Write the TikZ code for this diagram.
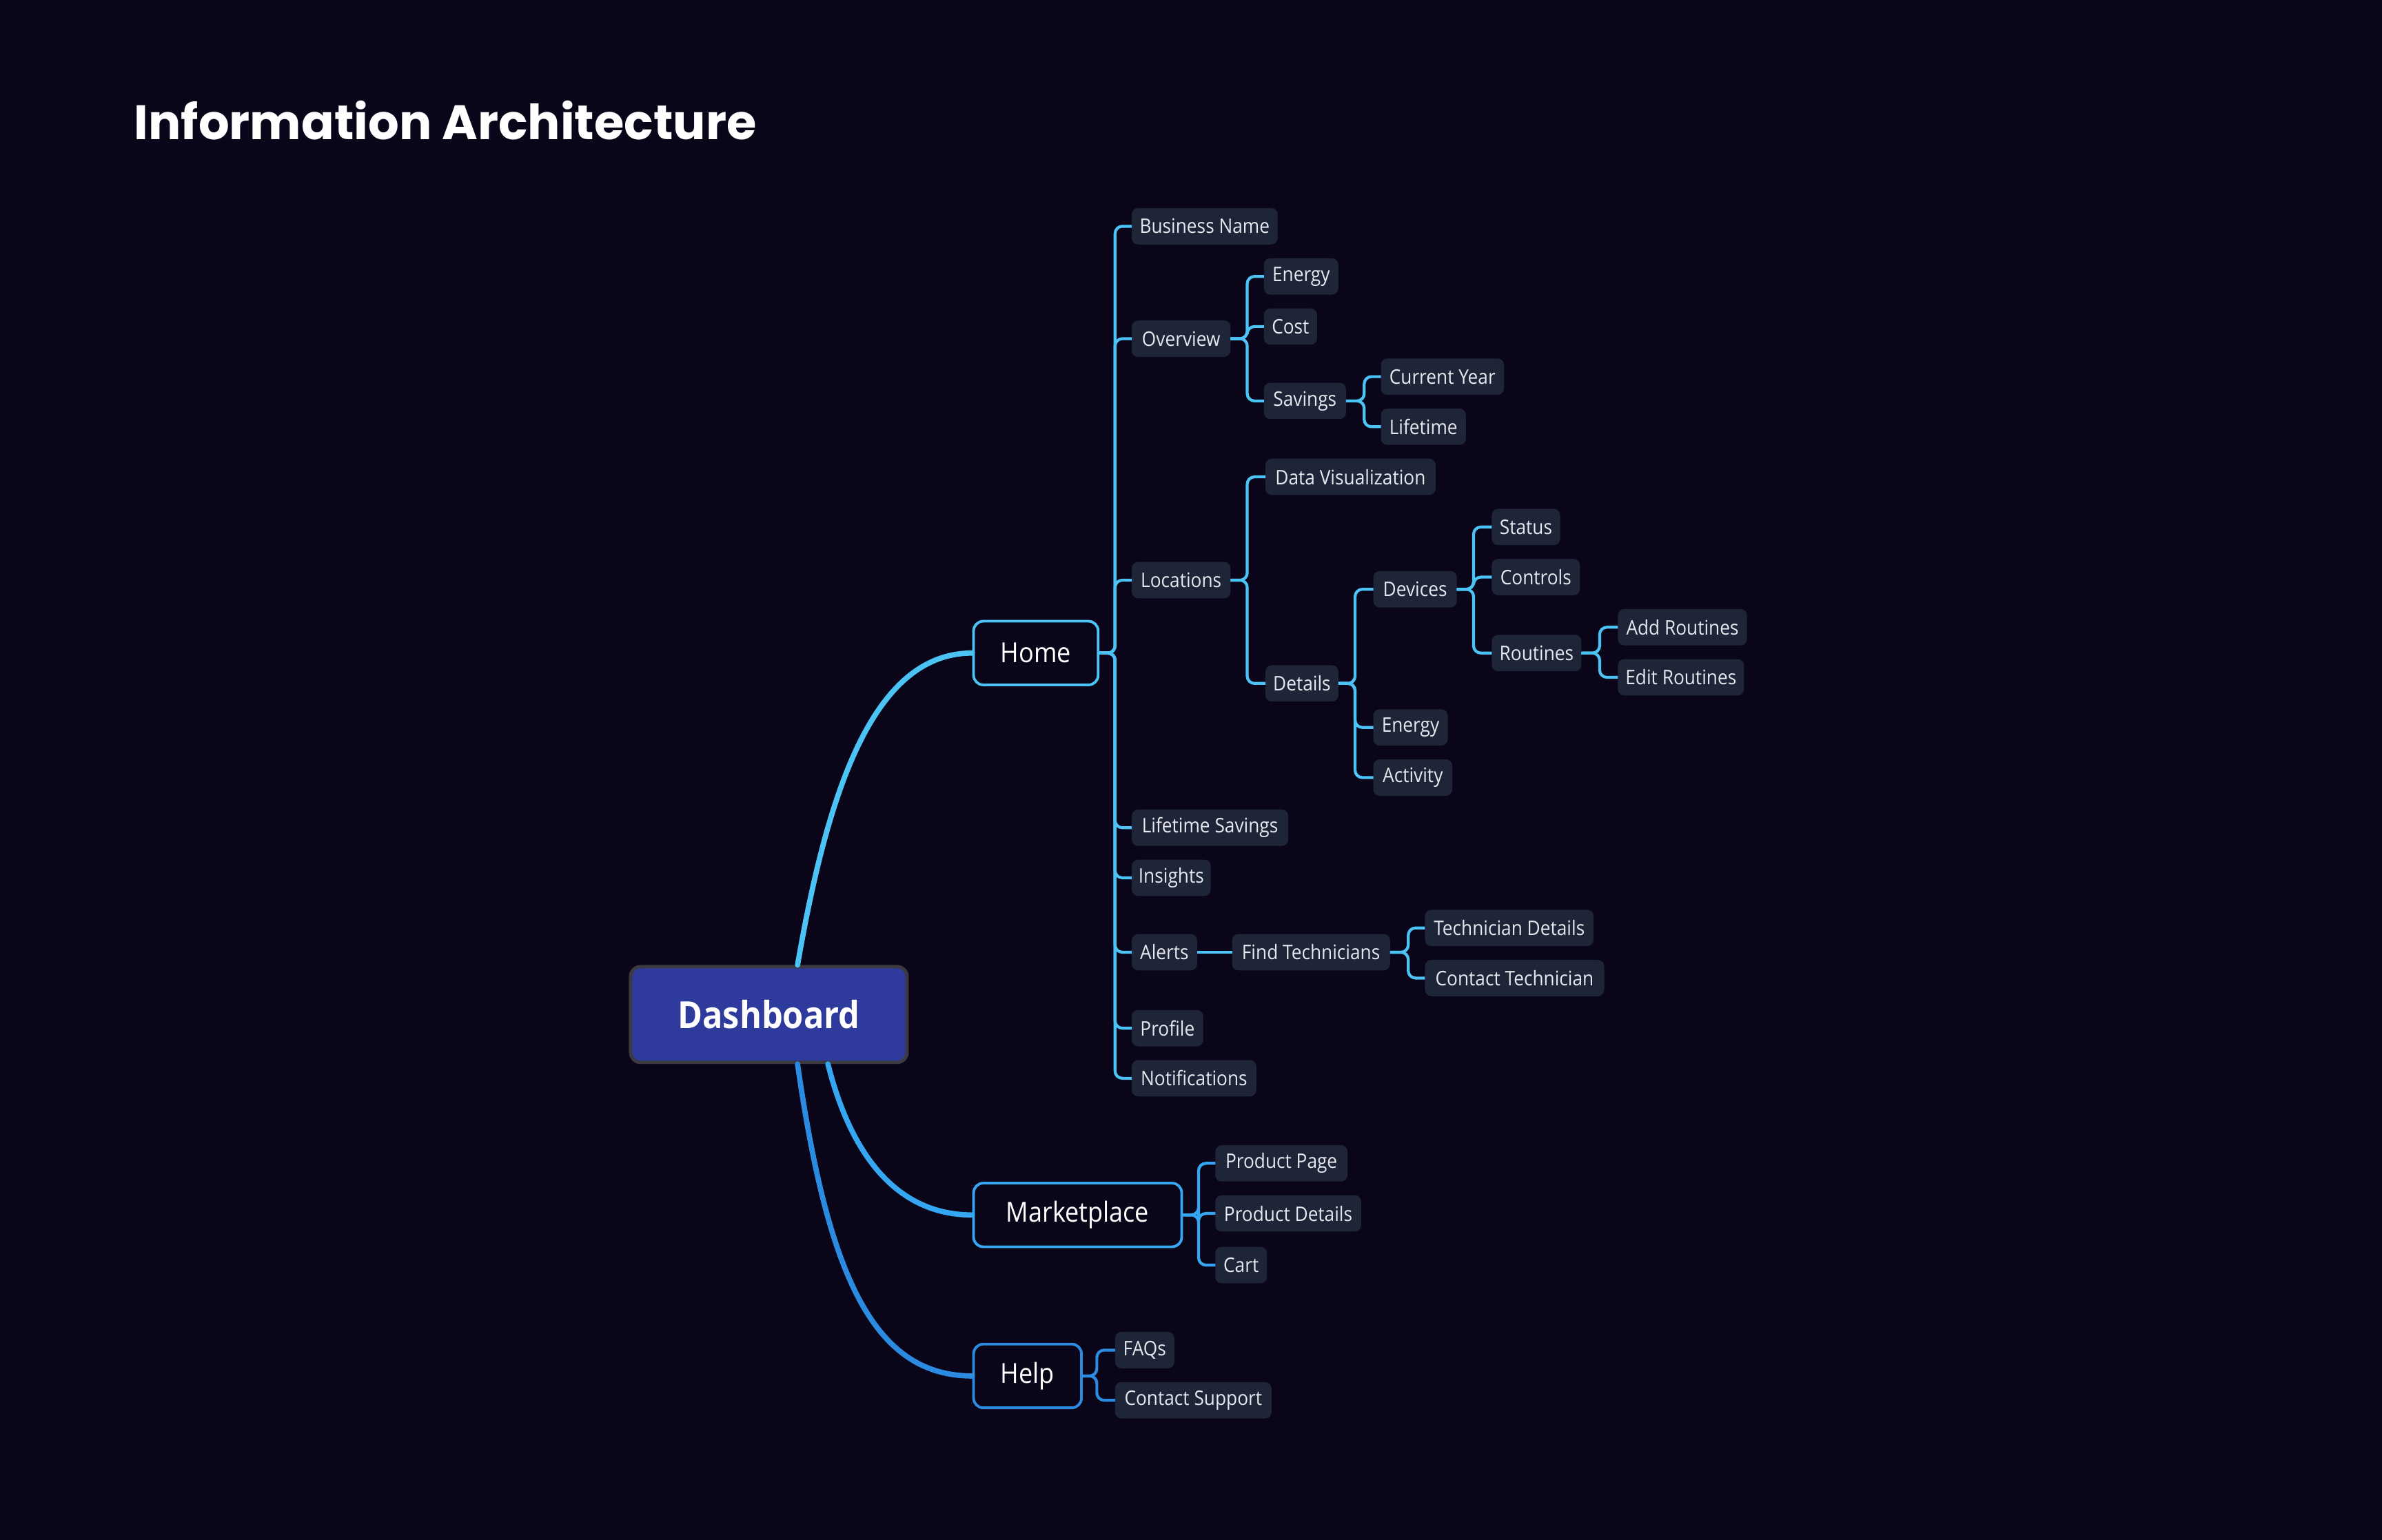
\documentclass[tikz,border=0pt]{standalone}
\usepackage{fontspec}
\setmainfont{Open Sans}
\newfontfamily\nodefont{Open Sans}[FakeStretch=0.9]
\newfontfamily\titlefont{Poppins}
\definecolor{bg}{HTML}{0A0519}
\definecolor{leaffill}{HTML}{1E2539}
\definecolor{leaftext}{HTML}{E6E8EE}
\definecolor{cHome}{HTML}{4CC3F5}
\definecolor{cMkt}{HTML}{35A7F2}
\definecolor{cHelp}{HTML}{2A8BE0}
\definecolor{dashfill}{HTML}{2F3B9C}
\definecolor{dashborder}{HTML}{3A3A40}
\newcommand\leaf[5]{\node[leaf, minimum width={(#3-#2)*0.6271pt}] (#1) at (#2,#4) {#5};}
\newcommand\br[4]{\draw[#1] (#2.east) -- (#2.east -| #3,0) |- (#4.west);}
\begin{document}
\begin{tikzpicture}[x=0.6271pt,y=-0.6271pt,
  leaf/.style={fill=leaffill, rounded corners=2.6pt, inner sep=0pt, outer sep=0pt,
    minimum height=15pt, text=leaftext, anchor=west,
    font=\nodefont\fontsize{8.3}{9}\selectfont},
  lvl/.style={draw=#1, line width=1.1pt, fill=bg, rounded corners=4pt, inner sep=0pt,
    minimum height=26.3pt, text=white, anchor=west,
    font=\nodefont\fontsize{11.4}{13}\selectfont},
  conn/.style={draw=#1, line width=1.2pt, rounded corners=3pt},
  curve/.style={draw=#1, line width=2.2pt, line cap=round}]
\useasboundingbox (0,0) rectangle (1568,1014);
\fill[bg] (0,0) rectangle (1568,1014);

\node[anchor=base west, inner sep=0pt, text=white, font=\titlefont\bfseries\fontsize{20}{24}\selectfont] (title) at (88,92) {Information Architecture};

% main nodes
\node[fill=dashfill, draw=dashborder, line width=1.4pt, rounded corners=4pt, inner sep=0pt,
  minimum width=114.1pt, minimum height=39.5pt, text=white, anchor=west,
  font=\nodefont\bfseries\fontsize{15.4}{18}\selectfont] (dash) at (414,668) {Dashboard};
\node[lvl=cHome, minimum width={82*0.6271pt}] (home) at (640,430) {Home};
\node[lvl=cMkt, minimum width={137*0.6271pt}] (mkt) at (640,800) {Marketplace};
\node[lvl=cHelp, minimum width={71*0.6271pt}] (help) at (640,906) {Help};

% Home children
\leaf{bname}{745}{841}{149}{Business Name}
\leaf{ov}{745}{810}{223}{Overview}
\leaf{en1}{832}{881}{182}{Energy}
\leaf{cost}{832}{867}{215}{Cost}
\leaf{sav}{832}{886}{264}{Savings}
\leaf{cy}{909}{990}{248}{Current Year}
\leaf{life}{909}{965}{281}{Lifetime}
\leaf{loc}{745}{810}{382}{Locations}
\leaf{dv}{833}{945}{314}{Data Visualization}
\leaf{det}{833}{881}{450}{Details}
\leaf{dev}{904}{959}{388}{Devices}
\leaf{stat}{982}{1027}{347}{Status}
\leaf{ctrl}{982}{1040}{380}{Controls}
\leaf{rout}{982}{1041}{430}{Routines}
\leaf{addr}{1065}{1150}{413}{Add Routines}
\leaf{editr}{1065}{1148}{446}{Edit Routines}
\leaf{en2}{904}{953}{479}{Energy}
\leaf{act}{904}{956}{512}{Activity}
\leaf{lsav}{745}{848}{545}{Lifetime Savings}
\leaf{ins}{745}{797}{578}{Insights}
\leaf{alerts}{745}{788}{627}{Alerts}
\leaf{ftech}{811}{915}{627}{Find Technicians}
\leaf{tdet}{938}{1049}{611}{Technician Details}
\leaf{ctech}{938}{1056}{644}{Contact Technician}
\leaf{prof}{745}{792}{677}{Profile}
\leaf{notif}{745}{827}{710}{Notifications}
% Marketplace children
\leaf{ppage}{800}{887}{766}{Product Page}
\leaf{pdet}{800}{896}{799}{Product Details}
\leaf{cart}{800}{834}{833}{Cart}
% Help children
\leaf{faq}{734}{773}{889}{FAQs}
\leaf{csup}{734}{837}{922}{Contact Support}

% main curves
\draw[curve=cHome] (525,0 |- dash.north) .. controls (545,520) and (575,430) .. (home.west);
\draw[curve=cMkt] (545,0 |- dash.south) .. controls (560,760) and (590,800) .. (mkt.west);
\draw[curve=cHelp] (525,0 |- dash.south) .. controls (545,840) and (575,906) .. (help.west);

% Home branches
\foreach \c in {bname,ov,loc,lsav,ins,alerts,prof,notif}{\br{conn=cHome}{home}{734}{\c}}
\foreach \c in {en1,cost,sav}{\br{conn=cHome}{ov}{821}{\c}}
\foreach \c in {cy,life}{\br{conn=cHome}{sav}{898}{\c}}
\foreach \c in {dv,det}{\br{conn=cHome}{loc}{821}{\c}}
\foreach \c in {dev,en2,act}{\br{conn=cHome}{det}{892}{\c}}
\foreach \c in {stat,ctrl,rout}{\br{conn=cHome}{dev}{970}{\c}}
\foreach \c in {addr,editr}{\br{conn=cHome}{rout}{1053}{\c}}
\draw[conn=cHome] (alerts.east) -- (ftech.west);
\foreach \c in {tdet,ctech}{\br{conn=cHome}{ftech}{927}{\c}}
% Marketplace branches
\foreach \c in {ppage,pdet,cart}{\br{conn=cMkt}{mkt}{789}{\c}}
% Help branches
\foreach \c in {faq,csup}{\br{conn=cHelp}{help}{722}{\c}}
\end{tikzpicture}
\end{document}
